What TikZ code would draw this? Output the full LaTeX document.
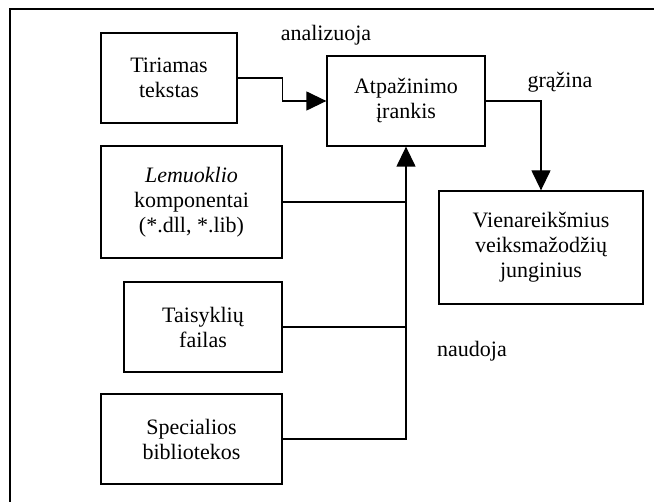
\documentclass[tikz,border=0pt]{standalone}
\usepackage{fontspec}
\setmainfont{Liberation Serif}
\usetikzlibrary{arrows.meta}
\begin{document}
\begin{tikzpicture}[x=1pt,y=-1pt,
 box/.style={draw, line width=1.3pt, align=center, font=\fontsize{22}{25}\selectfont, inner sep=0pt},
 lbl/.style={font=\fontsize{22}{25}\selectfont, inner sep=0pt, anchor=base},
 conn/.style={line width=1.3pt},
 arr/.style={conn, -{Triangle[length=20pt,width=19pt]}}]
\useasboundingbox (0,0) rectangle (654,502);
\draw[line width=1.3pt] (10,502) -- (10,9) -- (654,9);

\node[box, minimum width=136pt, minimum height=90pt] (tir) at (169,78) {Tiriamas\\tekstas};
\node[box, minimum width=181pt, minimum height=112pt] (lem) at (191.5,202) {\textit{Lemuoklio}\\komponentai\\(*.dll, *.lib)};
\node[box, minimum width=158pt, minimum height=90pt] (tai) at (203,327) {Taisyklių\\failas};
\node[box, minimum width=181pt, minimum height=90pt] (spe) at (191.5,439) {Specialios\\bibliotekos};
\node[box, minimum width=158pt, minimum height=90pt] (atp) at (406,101) {Atpažinimo\\įrankis};
\node[box, minimum width=204pt, minimum height=113pt] (vie) at (541,247.5) {Vienareikšmius\\veiksmažodžių\\junginius};

\node[lbl] (l1) at (326,41) {analizuoja};
\node[lbl] (l2) at (560,88) {grąžina};
\node[lbl] (l3) at (472,357) {naudoja};

\draw[arr] (tir.east) -- ++(45,0) |- (atp.west);
\draw[arr] (atp.east) -| (vie.north);
\draw[arr] (spe.east) -| (atp.south);
\draw[conn] (lem.east) -- (lem.east -| atp.south);
\draw[conn] (tai.east) -- (tai.east -| atp.south);
\end{tikzpicture}
\end{document}
